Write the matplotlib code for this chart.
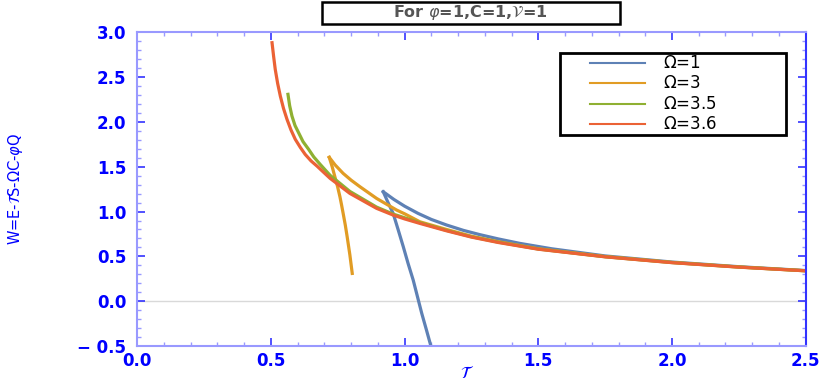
import matplotlib
matplotlib.use('Agg')
from matplotlib import pyplot as plt
from matplotlib.patches import Rectangle
from matplotlib.ticker import MultipleLocator

# values (tau, W)
tau_1_up = [0.920, 0.960, 1.000, 1.050, 1.100, 1.157, 1.220, 1.282, 1.350, 1.431, 1.550, 1.750, 2.000, 2.250, 2.500]
w_1_up = [1.221, 1.135, 1.060, 0.980, 0.912, 0.850, 0.790, 0.742, 0.695, 0.645, 0.585, 0.505, 0.437, 0.385, 0.342]
tau_1_low = [0.920, 0.938, 0.957, 0.976, 0.995, 1.013, 1.032, 1.048, 1.064, 1.081, 1.098]
w_1_low = [1.221, 1.100, 0.980, 0.795, 0.607, 0.420, 0.236, 0.050, -0.136, -0.315, -0.498]

tau_3_up = [0.718, 0.740, 0.770, 0.800, 0.833, 0.895, 0.970, 1.000, 1.057, 1.157, 1.250, 1.350, 1.500, 1.750, 2.000, 2.250, 2.500]
w_3_up = [1.605, 1.520, 1.426, 1.350, 1.277, 1.147, 1.017, 0.975, 0.886, 0.800, 0.725, 0.664, 0.585, 0.498, 0.433, 0.382, 0.340]
tau_3_low = [0.718, 0.729, 0.739, 0.749, 0.758, 0.764, 0.770, 0.778, 0.785, 0.795, 0.804]
w_3_low = [1.605, 1.500, 1.389, 1.280, 1.165, 1.075, 0.980, 0.850, 0.719, 0.520, 0.310]

tau_35 = [0.5636, 0.570, 0.5785, 0.590, 0.6035, 0.620, 0.641, 0.660, 0.684, 0.721, 0.795, 0.895, 0.957, 1.057, 1.157, 1.250, 1.350, 1.500, 1.750, 2.000, 2.250, 2.500]
w_35 = [2.308, 2.180, 2.066, 1.960, 1.879, 1.780, 1.694, 1.610, 1.527, 1.405, 1.225, 1.050, 0.972, 0.876, 0.790, 0.719, 0.659, 0.582, 0.496, 0.431, 0.381, 0.339]

tau_36 = [0.504, 0.510, 0.516, 0.525, 0.535, 0.547, 0.560, 0.575, 0.591, 0.610, 0.628, 0.650, 0.672, 0.721, 0.795, 0.895, 0.957, 1.000, 1.057, 1.157, 1.250, 1.350, 1.500, 1.750, 2.000, 2.250, 2.500]
w_36 = [2.884, 2.730, 2.587, 2.430, 2.289, 2.150, 2.029, 1.910, 1.806, 1.715, 1.638, 1.565, 1.508, 1.371, 1.203, 1.036, 0.961, 0.918, 0.868, 0.785, 0.715, 0.655, 0.580, 0.495, 0.430, 0.380, 0.339]

labels = ['$\\Omega$=1', '$\\Omega$=3', '$\\Omega$=3.5', '$\\Omega$=3.6']
colors = ['#5E81B5', '#E19C24', '#8FB032', '#EB6235']

fig = plt.figure(figsize=(8.3, 3.82), dpi=100)
ax = fig.add_axes([0.1654, 0.0942, 0.8053, 0.8212])

ax.axhline(0, color='#d9d9d9', lw=1, zorder=1)

lw = 2.3
ax.plot(tau_1_up, w_1_up, c=colors[0], lw=lw)
ax.plot(tau_1_low, w_1_low, c=colors[0], lw=lw)
ax.plot(tau_3_up, w_3_up, c=colors[1], lw=lw)
ax.plot(tau_3_low, w_3_low, c=colors[1], lw=lw)
ax.plot(tau_35, w_35, c=colors[2], lw=lw)
ax.plot(tau_36, w_36, c=colors[3], lw=lw)

ax.set_xlim(0, 2.5)
ax.set_ylim(-0.5, 3.0)

ax.xaxis.set_minor_locator(MultipleLocator(0.1))
ax.yaxis.set_minor_locator(MultipleLocator(0.1))
ax.tick_params(which='both', direction='in', top=True, right=True, color='#3333ff')
ax.tick_params(which='major', length=6, width=1.2)
ax.tick_params(which='minor', length=3, width=1, color='#9999ff')
ax.tick_params(axis='both', labelcolor='blue', labelsize=12)
ax.tick_params(axis='x', pad=4)
ax.tick_params(axis='y', pad=8)

xt = [0.0, 0.5, 1.0, 1.5, 2.0, 2.5]
ax.set_xticks(xt)
ax.set_xticklabels(['%.1f' % v for v in xt], fontweight='bold')
yt = [-0.5, 0.0, 0.5, 1.0, 1.5, 2.0, 2.5, 3.0]
ax.set_yticks(yt)
ax.set_yticklabels(['\u2212 0.5'] + ['%.1f' % v for v in yt[1:]], fontweight='bold')

for s in ['left', 'bottom', 'top']:
    ax.spines[s].set_color('#9999ff')
    ax.spines[s].set_linewidth(1.5)
ax.spines['right'].set_color('#3333ff')
ax.spines['right'].set_linewidth(1.5)

ax.set_xlabel('$\\mathcal{T}$', color='blue', fontsize=12)
ax.xaxis.set_label_coords(0.493, -0.058)
ax.set_ylabel('W=E-$\\mathcal{T}$S-$\\Omega$C-$\\varphi$Q', color='blue', fontsize=10.5)
ax.yaxis.set_label_coords(-0.168, 0.5)

# legend box drawn in axes coordinates to match the reference layout
ax.add_patch(Rectangle((0.632, 0.673), 0.338, 0.261, transform=ax.transAxes,
                       fc='white', ec='black', lw=2, zorder=5))
rows = [0.901, 0.838, 0.772, 0.708]
for lab, c, yy in zip(labels, colors, rows):
    ax.plot([0.677, 0.759], [yy, yy], color=c, lw=1.5, transform=ax.transAxes, zorder=6)
    ax.text(0.787, yy, lab, color='black', fontsize=12, va='center', ha='left',
            transform=ax.transAxes, zorder=6)

# title box
fig.patches.append(Rectangle((0.388, 0.937), 0.359, 0.058, transform=fig.transFigure,
                             fc='white', ec='black', lw=1.8, figure=fig))
fig.text(0.567, 0.966, 'For $\\varphi$=1,C=1,$\\mathcal{V}$=1', ha='center', va='center',
         color='#555555', fontsize=11.5, fontweight='bold')

fig.savefig('out.png', dpi=100)
